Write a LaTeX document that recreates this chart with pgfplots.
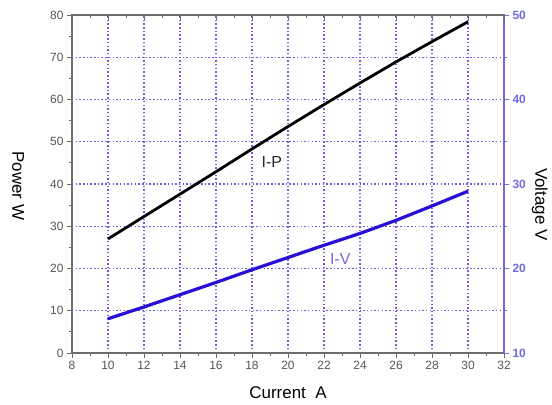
\documentclass[border=0pt]{standalone}
\usepackage{fontspec}
\setmainfont{Liberation Sans}
\usepackage{pgfplots}
\pgfplotsset{compat=1.18}
\definecolor{gridc}{RGB}{105,95,225}
\definecolor{blueline}{RGB}{40,15,215}
\definecolor{raxis}{RGB}{115,105,225}
\definecolor{ticktext}{RGB}{85,85,85}
\definecolor{spine}{RGB}{110,110,110}
\begin{document}
\begin{tikzpicture}
\pgfplotsset{
  every axis/.append style={
    scale only axis, width=432bp, height=338bp, xmin=8, xmax=32,
    /pgf/number format/assume math mode=true,
    tick label style={font=\fontsize{12}{13}\selectfont, text=ticktext},
    label style={font=\fontsize{17}{20}\selectfont},
    major tick length=5bp, minor tick length=3bp,
  },
}
\begin{axis}[
  ymin=0, ymax=80,
  xtick={8,10,...,32}, ytick={0,10,...,80},
  minor x tick num=1, minor y tick num=1,
  xtick pos=bottom, ytick pos=left, tick align=outside,
  axis line style={spine, line width=1.1pt},
  every tick/.style={spine, line width=1pt},
  xmajorgrids, ymajorgrids,
  major grid style={gridc, line width=1.3pt, dash pattern=on 1.5pt off 2.2pt},
  xlabel={Current\ \ A},
  xlabel style={at={(axis description cs:0.5,-0.118)}, anchor=center},
  ylabel={Power W},
  ylabel style={at={(axis description cs:-0.125,0.495)}, anchor=center, rotate=180},
]
\addplot[black, line width=2.8bp] coordinates {
  (10,27.0) (12,32.3) (14,37.6) (16,42.9) (18,48.3) (20,53.6)
  (22,58.8) (24,63.9) (26,68.9) (28,73.7) (30,78.4)
};
\addplot[blueline, line width=3.2bp] coordinates {
  (10,8.1) (12,10.9) (14,13.8) (16,16.7) (18,19.7) (20,22.6)
  (22,25.5) (24,28.3) (26,31.4) (28,34.8) (30,38.3)
};
\node[font=\fontsize{16}{18}\selectfont, text=black!85] at (axis cs:19.1,45.3) {I-P};
\node[font=\fontsize{16}{18}\selectfont, text=raxis] at (axis cs:22.9,22.3) {I-V};
\end{axis}
\begin{axis}[
  ymin=10, ymax=50,
  axis x line=none, axis y line*=right,
  ytick={10,20,...,50}, minor y tick num=1,
  tick align=outside,
  axis line style={raxis, line width=1.1pt, -},
  every tick/.style={raxis, line width=1pt},
  yticklabel style={text=raxis, font=\fontsize{12}{13}\selectfont\bfseries},
  ylabel={Voltage V},
  ylabel style={at={(axis description cs:1.083,0.44)}, anchor=center, rotate=180},
]
\end{axis}
\begin{axis}[
  ymin=0, ymax=1,
  axis y line=none, axis x line*=top,
  xtick={8,10,...,32}, minor x tick num=1,
  xticklabels={}, tick align=inside,
  axis line style={spine, line width=1.1pt, -},
  every tick/.style={spine, line width=1pt},
]
\end{axis}
\path ([shift={(-72bp,-52bp)}]current axis.south west) rectangle ([shift={(48bp,15bp)}]current axis.north east);
\end{tikzpicture}
\end{document}
